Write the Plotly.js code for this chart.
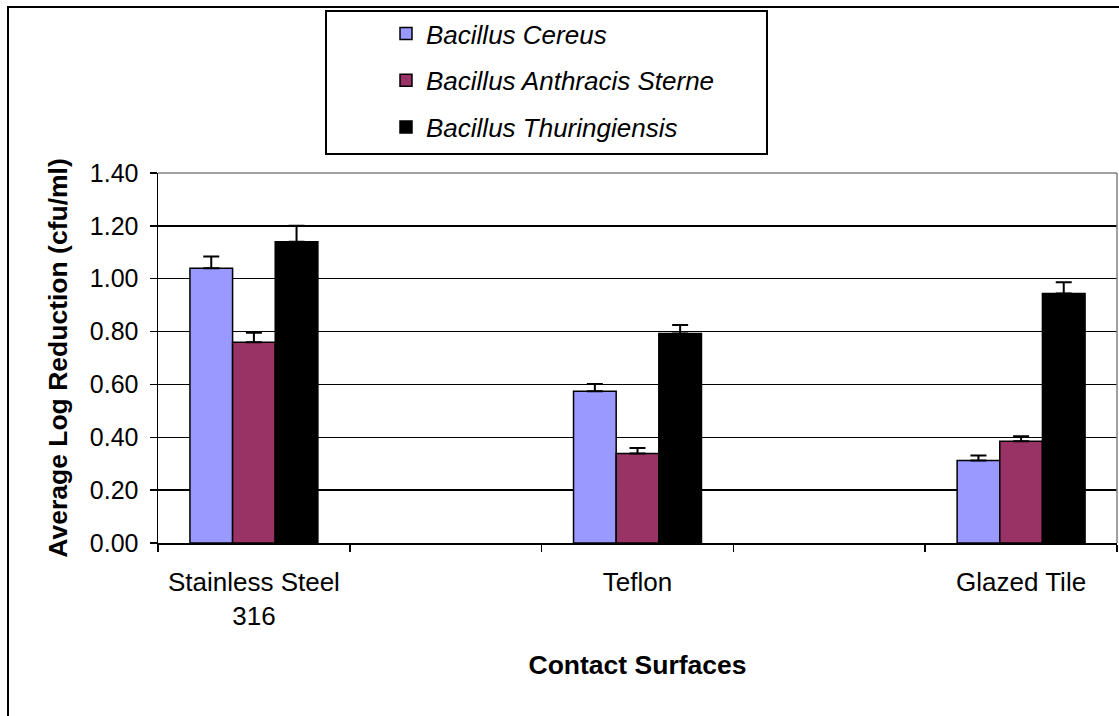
<!DOCTYPE html>
<html>
<head>
<meta charset="utf-8">
<script src="https://cdn.plot.ly/plotly-3.0.1.min.js"></script>
<style>
  html, body { margin: 0; padding: 0; background: #ffffff; }
  #chart { width: 1119px; height: 716px; }
</style>
</head>
<body>
<div id="chart"></div>
<script>
// Categories (blank slots as in the original chart)
const categories = ["Stainless Steel<br>316", " ", "Teflon", "  ", "Glazed Tile"];
const seriesNames = ["Bacillus Cereus", "Bacillus Anthracis Sterne", "Bacillus Thuringiensis"];

const cereus        = [1.04, null, 0.574, null, 0.312];
const anthracis     = [0.76, null, 0.339, null, 0.385];
const thuringiensis = [1.14, null, 0.793, null, 0.944];

const cereusErr        = [0.044, null, 0.028, null, 0.019];
const anthracisErr     = [0.036, null, 0.020, null, 0.019];
const thuringiensisErr = [0.060, null, 0.032, null, 0.043];

const yTickVals = [0, 0.2, 0.4, 0.6, 0.8, 1.0, 1.2, 1.4];

const colors = ["#9999FF", "#993366", "#000000"];
const values = [cereus, anthracis, thuringiensis];
const errs = [cereusErr, anthracisErr, thuringiensisErr];

const FONT = "Liberation Sans, Arial, sans-serif";

const traces = values.map((v, i) => ({
  type: "bar",
  name: seriesNames[i],
  legendgroup: "g" + i,
  x: categories,
  y: v,
  marker: { color: colors[i], line: { color: "#000000", width: 1.5 } },
  error_y: {
    type: "data",
    symmetric: false,
    array: errs[i],
    arrayminus: errs[i].map(e => (e === null ? null : 0)),
    color: "#000000",
    thickness: 2,
    width: 8
  },
  hoverinfo: "skip"
}));

// pixel -> paper helpers for decorations
const L = 158, R = 2, T = 173, B = 173, W = 1119, H = 716;
const pw = W - L - R, ph = H - T - B;
const px = p => (p - L) / pw;
const py = p => (H - B - p) / ph;

const layout = {
  width: W,
  height: H,
  margin: { l: L, r: R, t: T, b: B },
  paper_bgcolor: "#ffffff",
  plot_bgcolor: "#ffffff",
  font: { family: FONT, color: "#000000", size: 25 },
  barmode: "group",
  bargap: 0.333,
  bargroupgap: 0,
  showlegend: true,
  legend: {
    x: px(386), xanchor: "left",
    y: py(10), yanchor: "top",
    bgcolor: "rgba(0,0,0,0)",
    borderwidth: 0,
    font: { family: FONT, size: 26, style: "italic", color: "#000000" },
    traceorder: "grouped",
    tracegroupgap: 10,
    itemclick: false
  },
  xaxis: {
    type: "category",
    categoryorder: "array",
    categoryarray: categories,
    tickson: "boundaries",
    ticks: "outside",
    ticklen: 7,
    tickwidth: 1.5,
    tickcolor: "#000000",
    ticklabelstandoff: 15,
    showline: true,
    linecolor: "#000000",
    linewidth: 1.5,
    showgrid: false,
    zeroline: false,
    tickfont: { family: FONT, size: 26 },
    title: { text: "<b>Contact Surfaces</b>", font: { family: FONT, size: 26.5 }, standoff: 26 },
    automargin: false,
    fixedrange: true
  },
  yaxis: {
    range: [0, 1.4],
    tickvals: yTickVals,
    tickformat: ".2f",
    ticks: "outside",
    ticklen: 7,
    tickwidth: 1.5,
    tickcolor: "#000000",
    ticklabelstandoff: 6,
    showline: true,
    linecolor: "#000000",
    linewidth: 1.5,
    showgrid: true,
    gridcolor: "#000000",
    gridwidth: 1.5,
    zeroline: false,
    tickfont: { family: FONT, size: 25 },
    title: { text: "<b>Average Log Reduction (cfu/ml)</b>", font: { family: FONT, size: 26.5 }, standoff: 14 },
    automargin: false,
    fixedrange: true
  },
  shapes: [
    // chart area border
    { type: "rect", xref: "paper", yref: "paper", x0: px(8), x1: px(1140), y0: py(740), y1: py(7),
      line: { color: "#000000", width: 2 }, fillcolor: "rgba(0,0,0,0)", layer: "below" },
    // legend box
    { type: "rect", xref: "paper", yref: "paper", x0: px(326), x1: px(767), y0: py(154), y1: py(11),
      line: { color: "#000000", width: 2 }, fillcolor: "rgba(0,0,0,0)", layer: "below" },
    // plot area border top & right (gray)
    { type: "line", xref: "paper", yref: "paper", x0: 0, x1: 1, y0: 1, y1: 1,
      line: { color: "#808080", width: 1.5 }, layer: "above" },
    { type: "line", xref: "paper", yref: "paper", x0: 1, x1: 1, y0: 0, y1: 1,
      line: { color: "#808080", width: 1.5 }, layer: "above" }
  ]
};

Plotly.newPlot("chart", traces, layout, { displayModeBar: false, staticPlot: true });
</script>
</body>
</html>
